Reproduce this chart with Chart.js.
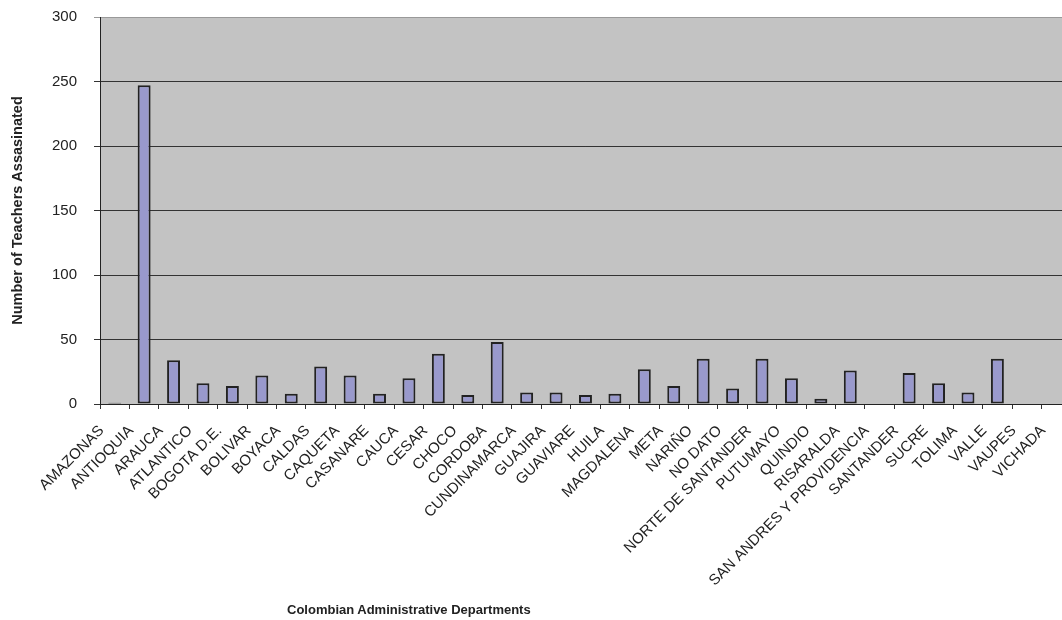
<!DOCTYPE html>
<html>
<head>
<meta charset="utf-8">
<script src="https://cdn.jsdelivr.net/npm/chart.js@4.4.0/dist/chart.umd.min.js"></script>
<style>
  html, body { margin: 0; padding: 0; background: #fff; overflow: hidden; }
  #wrap { position: relative; width: 1062px; height: 620px; overflow: hidden; }
  #ex_chart { position: absolute; left: 0; top: -9px; }
  #xtitle {
    position: absolute; left: 287px; top: 602px;
    font: bold 13px "Liberation Sans", Arial, sans-serif; color: #222;
    white-space: nowrap;
  }
</style>
</head>
<body>
<div id="wrap">
  <canvas id="ex_chart" width="1082" height="629"></canvas>
  <div id="xtitle">Colombian Administrative Departments</div>
</div>
<script>
var departments = ["AMAZONAS", "ANTIOQUIA", "ARAUCA", "ATLANTICO", "BOGOTA D.E.", "BOLIVAR",
    "BOYACA", "CALDAS", "CAQUETA", "CASANARE", "CAUCA", "CESAR", "CHOCO", "CORDOBA",
    "CUNDINAMARCA", "GUAJIRA", "GUAVIARE", "HUILA", "MAGDALENA", "META", "NARIÑO",
    "NO DATO", "NORTE DE SANTANDER", "PUTUMAYO", "QUINDIO", "RISARALDA",
    "SAN ANDRES Y PROVIDENCIA", "SANTANDER", "SUCRE", "TOLIMA", "VALLE", "VAUPES", "VICHADA"];

var teachers = [1, 247, 34, 16, 14, 22, 8, 29, 22, 8, 20, 39, 7, 48, 9, 9, 7, 8, 27, 14, 35,
    12, 35, 20, 4, 26, 0, 24, 16, 9, 35, 0, 0];

var yTicks = [0, 50, 100, 150, 200, 250, 300];

// gray plot background
var plotBack = {
    id: 'plotBack',
    beforeDraw: function (chart) {
        var a = chart.chartArea;
        var c = chart.ctx;
        c.save();
        c.fillStyle = '#c3c3c3';
        c.fillRect(a.left, a.top, a.right - a.left, a.bottom - a.top);
        c.restore();
    }
};

function InitializeGraph() {
    var ctx = document.getElementById('ex_chart');

    var data = {
        labels: departments,
        datasets: [{
            label: "Teachers",
            data: teachers,
            backgroundColor: '#9999cc',
            borderColor: '#222222',
            borderWidth: 2,
            borderSkipped: false,
            barPercentage: 0.44,
            categoryPercentage: 1.0
        }]
    };

    var config = {
        responsive: false,
        animation: false,
        layout: { padding: { top: 8, right: 2, left: 0, bottom: 0 } },
        plugins: {
            legend: { display: false },
            tooltip: { enabled: false }
        },
        scales: {
            x: {
                grid: { drawOnChartArea: false, tickLength: 5, color: '#333', offset: true },
                border: { color: '#222', width: 1 },
                ticks: {
                    autoSkip: false,
                    maxRotation: 45,
                    minRotation: 45,
                    padding: 13,
                    labelOffset: -13,
                    color: '#222',
                    font: { family: '"Liberation Sans", Arial, sans-serif', size: 15 }
                },
                afterFit: function (scale) { scale.height = 216; }
            },
            y: {
                min: 0,
                max: 300,
                afterBuildTicks: function (scale) {
                    scale.ticks = yTicks.map(function (v) { return { value: v }; });
                },
                grid: {
                    tickLength: 6,
                    color: function (c) { return c.tick && c.tick.value === 300 ? '#999' : '#333'; }
                },
                border: { color: '#222', width: 1 },
                ticks: {
                    padding: 17,
                    color: '#222',
                    font: { family: '"Liberation Sans", Arial, sans-serif', size: 15 }
                },
                title: {
                    display: true,
                    text: 'Number of Teachers Assasinated',
                    color: '#222',
                    padding: { top: 9, bottom: 0 },
                    font: { family: '"Liberation Sans", Arial, sans-serif', size: 14.5, weight: 'bold' }
                },
                afterFit: function (scale) { scale.width = 100; }
            }
        }
    };

    var ex_chart = new Chart(ctx, {
        type: 'bar',
        data: data,
        options: config,
        plugins: [plotBack]
    });
}

InitializeGraph();
</script>
</body>
</html>
